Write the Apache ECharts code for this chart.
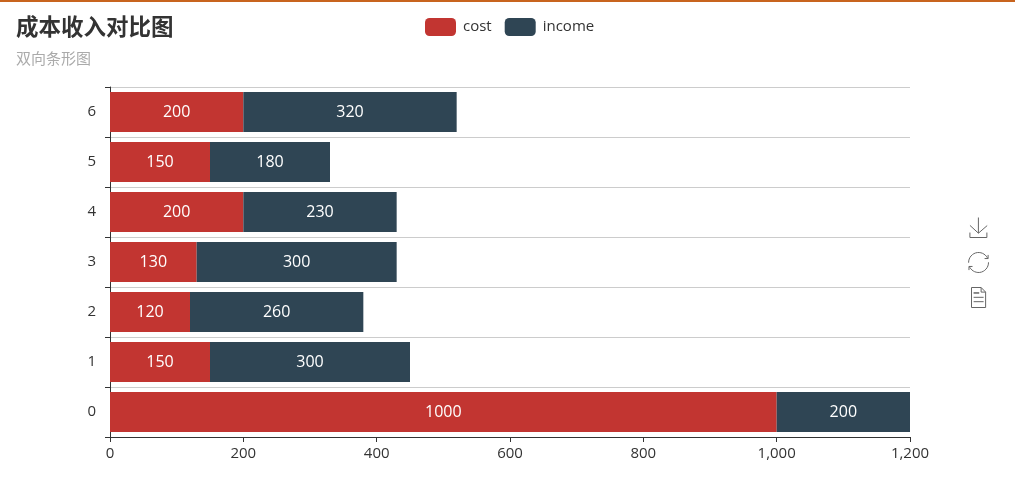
<!DOCTYPE html>
<html>
<head>
<meta charset="utf-8">
<style>
html, body { margin: 0; padding: 0; background: #fff; }
#topline { position: absolute; left: 0; top: 0; width: 100%; height: 2px; background: #c8641e; z-index: 2; }
#charts { width: 1015px; height: 487px; }
</style>
<script src="https://cdn.jsdelivr.net/npm/echarts@6/dist/echarts.min.js"></script>
</head>
<body>
<div id="topline"></div>
<div id="charts"></div>
<script>
var categories = ['0', '1', '2', '3', '4', '5', '6'];
var cost = [1000, 150, 120, 130, 200, 150, 200];
var income = [200, 300, 260, 300, 230, 180, 320];
var fontName = '"Noto Sans CJK SC", "Open Sans", sans-serif';

var myChart = echarts.init(document.getElementById('charts'), null, { renderer: 'canvas' });
myChart.setOption({
	animation: false,
	color: ['#c23531', '#2f4554'],
	textStyle: { fontFamily: fontName },
	title: {
		text: '成本收入对比图',
		subtext: '双向条形图',
		left: 11,
		top: 10,
		itemGap: 13,
		textStyle: { fontSize: 22.5, fontWeight: 'bold', color: '#333', fontFamily: fontName },
		subtextStyle: { fontSize: 15, color: '#aaa', fontFamily: fontName }
	},
	legend: {
		data: ['cost', 'income'],
		left: 420,
		top: 13,
		itemWidth: 31,
		itemHeight: 18,
		itemGap: 13,
		icon: 'roundRect',
		textStyle: { fontSize: 15, color: '#333', padding: [0, 0, 2, 2], fontFamily: '"Open Sans", sans-serif' }
	},
	toolbox: {
		show: true,
		orient: 'vertical',
		right: 9,
		top: 200,
		itemSize: 20,
		itemGap: 10,
		iconStyle: { borderColor: '#666' },
		feature: {
			saveAsImage: { title: '' },
			restore: { title: '' },
			dataView: { title: '', readOnly: true }
		}
	},
	grid: { left: 110, right: 105, top: 87, bottom: 50 },
	xAxis: {
		type: 'value',
		min: 0,
		max: 1200,
		interval: 200,
		splitLine: { show: false },
		axisLine: { show: true, lineStyle: { color: '#333' } },
		axisTick: { show: true, length: 5, lineStyle: { color: '#333' } },
		axisLabel: {
			fontSize: 15,
			color: '#333',
			margin: 9,
			fontFamily: '"Open Sans", sans-serif',
			formatter: function (v) { return v.toLocaleString('en-US'); }
		}
	},
	yAxis: {
		type: 'category',
		data: categories,
		axisLine: { show: true, lineStyle: { color: '#333' } },
		axisTick: { show: true, length: 5, lineStyle: { color: '#333' } },
		axisLabel: { fontSize: 15, color: '#333', margin: 14, fontFamily: '"Open Sans", sans-serif' },
		splitLine: { show: true, lineStyle: { color: '#ccc' } }
	},
	series: [{
		name: 'cost',
		type: 'bar',
		stack: 'total',
		barWidth: 40,
		label: { show: true, position: 'inside', color: '#fff', fontSize: 16, fontFamily: '"Open Sans", sans-serif' },
		data: cost
	}, {
		name: 'income',
		type: 'bar',
		stack: 'total',
		barWidth: 40,
		label: { show: true, position: 'inside', color: '#fff', fontSize: 16, fontFamily: '"Open Sans", sans-serif' },
		data: income
	}]
});
</script>
</body>
</html>
